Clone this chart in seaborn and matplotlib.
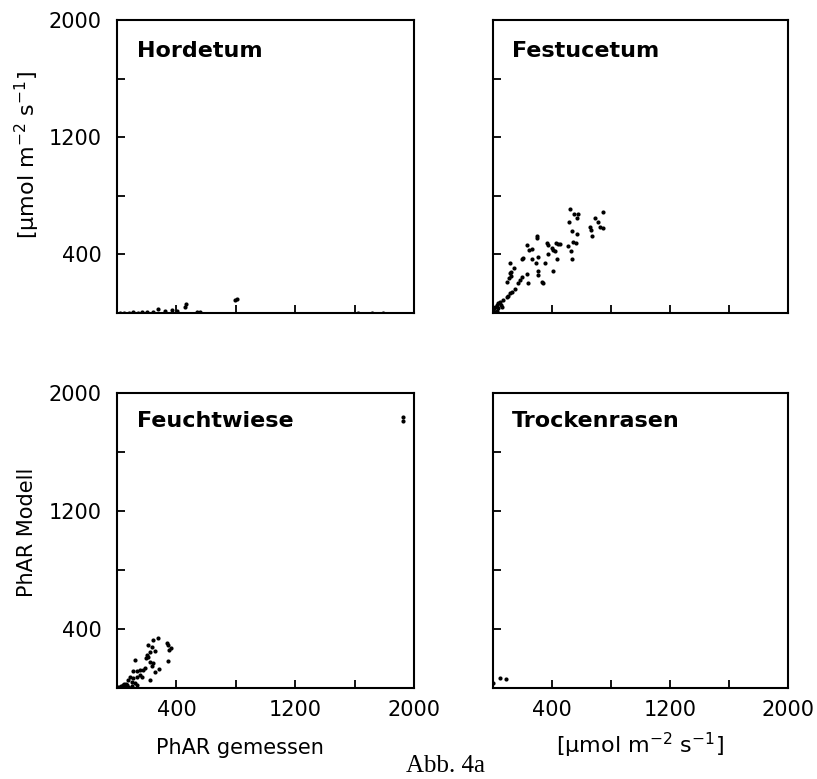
import numpy as np
import pandas as pd
import matplotlib
matplotlib.use("Agg")
import matplotlib.pyplot as plt
import seaborn as sns

sns.set_style("white")
plt.rcParams['font.family'] = ['DejaVu Sans']
plt.rcParams['text.color'] = 'black'
plt.rcParams['axes.labelcolor'] = 'black'

panels = ["Hordetum", "Festucetum", "Feuchtwiese", "Trockenrasen"]

hordetum_x = [20, 50, 80, 110, 140, 170, 200, 240, 278, 323, 368, 402, 465, 458, 537, 559, 795, 810, 1620, 1720, 1790]
hordetum_y = [2, 3, 2, 4, 3, 5, 4, 6, 25, 14, 20, 16, 61, 43, 9, 5, 89, 96, 3, 2, 3]

festucetum_x = [522, 551, 579, 567, 515, 533, 572, 545, 561, 506, 527, 538, 692, 714, 748, 725, 748, 658, 664, 673,
                296, 301, 233, 246, 262, 368, 375, 398, 409, 420, 427, 443, 454, 432, 409, 375, 353, 307, 307, 307,
                289, 262, 194, 206, 115, 122, 145, 115, 122, 93, 108, 183, 194, 228, 235, 330, 341, 172, 149, 127,
                115, 93, 104, 70, 47, 36, 25, 14, 9, 2, 54, 63, 36, 25, 14]
festucetum_y = [710, 674, 676, 646, 623, 562, 539, 482, 480, 457, 423, 369, 651, 619, 692, 589, 578, 585, 567, 526,
                526, 514, 464, 430, 437, 480, 464, 441, 430, 423, 476, 471, 471, 369, 287, 401, 339, 385, 289, 259,
                339, 369, 369, 373, 339, 282, 305, 271, 255, 214, 237, 225, 244, 266, 207, 214, 203, 203, 162, 146,
                134, 111, 116, 89, 77, 66, 55, 43, 32, 20, 55, 39, 32, 16, 9]

feuchtwiese_x = [278, 245, 211, 233, 222, 256, 200, 195, 211, 121, 222, 245, 233, 189, 177, 155, 132, 110, 285, 256,
                 334, 346, 364, 352, 346, 155, 166, 132, 110, 88, 76, 99, 222, 121, 132, 99, 76, 54, 43, 65,
                 31, 88, 10, 20, 30, 40, 50, 15, 35, 60, 1926, 1928]
feuchtwiese_y = [341, 325, 292, 280, 246, 253, 224, 201, 208, 190, 178, 167, 149, 133, 122, 122, 117, 117, 127, 111,
                 307, 292, 269, 258, 185, 88, 77, 77, 66, 77, 54, 43, 54, 32, 20, 14, 9, 5, 0, 20,
                 0, 2, 5, 10, 15, 20, 25, 3, 8, 30, 1810, 1840]

trockenrasen_x = [2, 47, 88]
trockenrasen_y = [32, 66, 59]

xs = [hordetum_x, festucetum_x, feuchtwiese_x, trockenrasen_x]
ys = [hordetum_y, festucetum_y, feuchtwiese_y, trockenrasen_y]

tick_vals = [400, 800, 1200, 1600, 2000]
tick_labels = ["400", "", "1200", "", "2000"]

fig = plt.figure(figsize=(8.17, 7.79), dpi=100)
W, H = 817, 779
boxes = [(117, 20, 414, 313), (493, 20, 788, 313), (117, 393, 414, 688), (493, 393, 788, 688)]
title_pos = [(0.067, 0.895), (0.064, 0.895), (0.067, 0.905), (0.064, 0.905)]

for i, (name, bx) in enumerate(zip(panels, boxes)):
    l, t, r, b = bx
    ax = fig.add_axes([l / W, 1 - b / H, (r - l) / W, (b - t) / H])
    df = pd.DataFrame({"x": xs[i], "y": ys[i]})
    sns.scatterplot(data=df, x="x", y="y", ax=ax, color="black", s=9, linewidth=0, legend=False)
    ax.set_xlim(0, 2000)
    ax.set_ylim(0, 2000)
    ax.set_xlabel("")
    ax.set_ylabel("")
    for sp in ax.spines.values():
        sp.set_linewidth(1.5)
        sp.set_color("black")
    ax.set_xticks(tick_vals)
    ax.set_yticks(tick_vals)
    ax.tick_params(direction="in", length=6, width=1.3, colors="black", labelsize=15,
                   top=False, right=False, bottom=True, left=True)
    ax.tick_params(axis="x", pad=9)
    ax.tick_params(axis="y", pad=11)
    if i >= 2:
        ax.set_xticklabels(tick_labels)
    else:
        ax.set_xticklabels([])
    if i % 2 == 0:
        ax.set_yticklabels(tick_labels)
    else:
        ax.set_yticklabels([])
    ax.text(title_pos[i][0], title_pos[i][1], name, transform=ax.transAxes, color="black",
            fontsize=16, fontweight="bold", ha="left", va="center")

unit = r"[μmol m$^{-2}$ s$^{-1}$]"
fig.text(27 / W, 1 - 155 / H, unit, rotation=90, ha="center", va="center", fontsize=16, color="black")
fig.text(27 / W, 1 - 532 / H, "PhAR Modell", rotation=90, ha="center", va="center", fontsize=15, color="black")
fig.text(240 / W, 1 - 748 / H, "PhAR gemessen", ha="center", va="center", fontsize=15, color="black")
fig.text(640 / W, 1 - 745 / H, unit, ha="center", va="center", fontsize=16, color="black")
fig.text(445 / W, 1 - 766 / H, "Abb. 4a", ha="center", va="center", fontsize=18, color="black",
         family=["Liberation Serif", "DejaVu Serif"])

fig.savefig("out.png", dpi=100)
